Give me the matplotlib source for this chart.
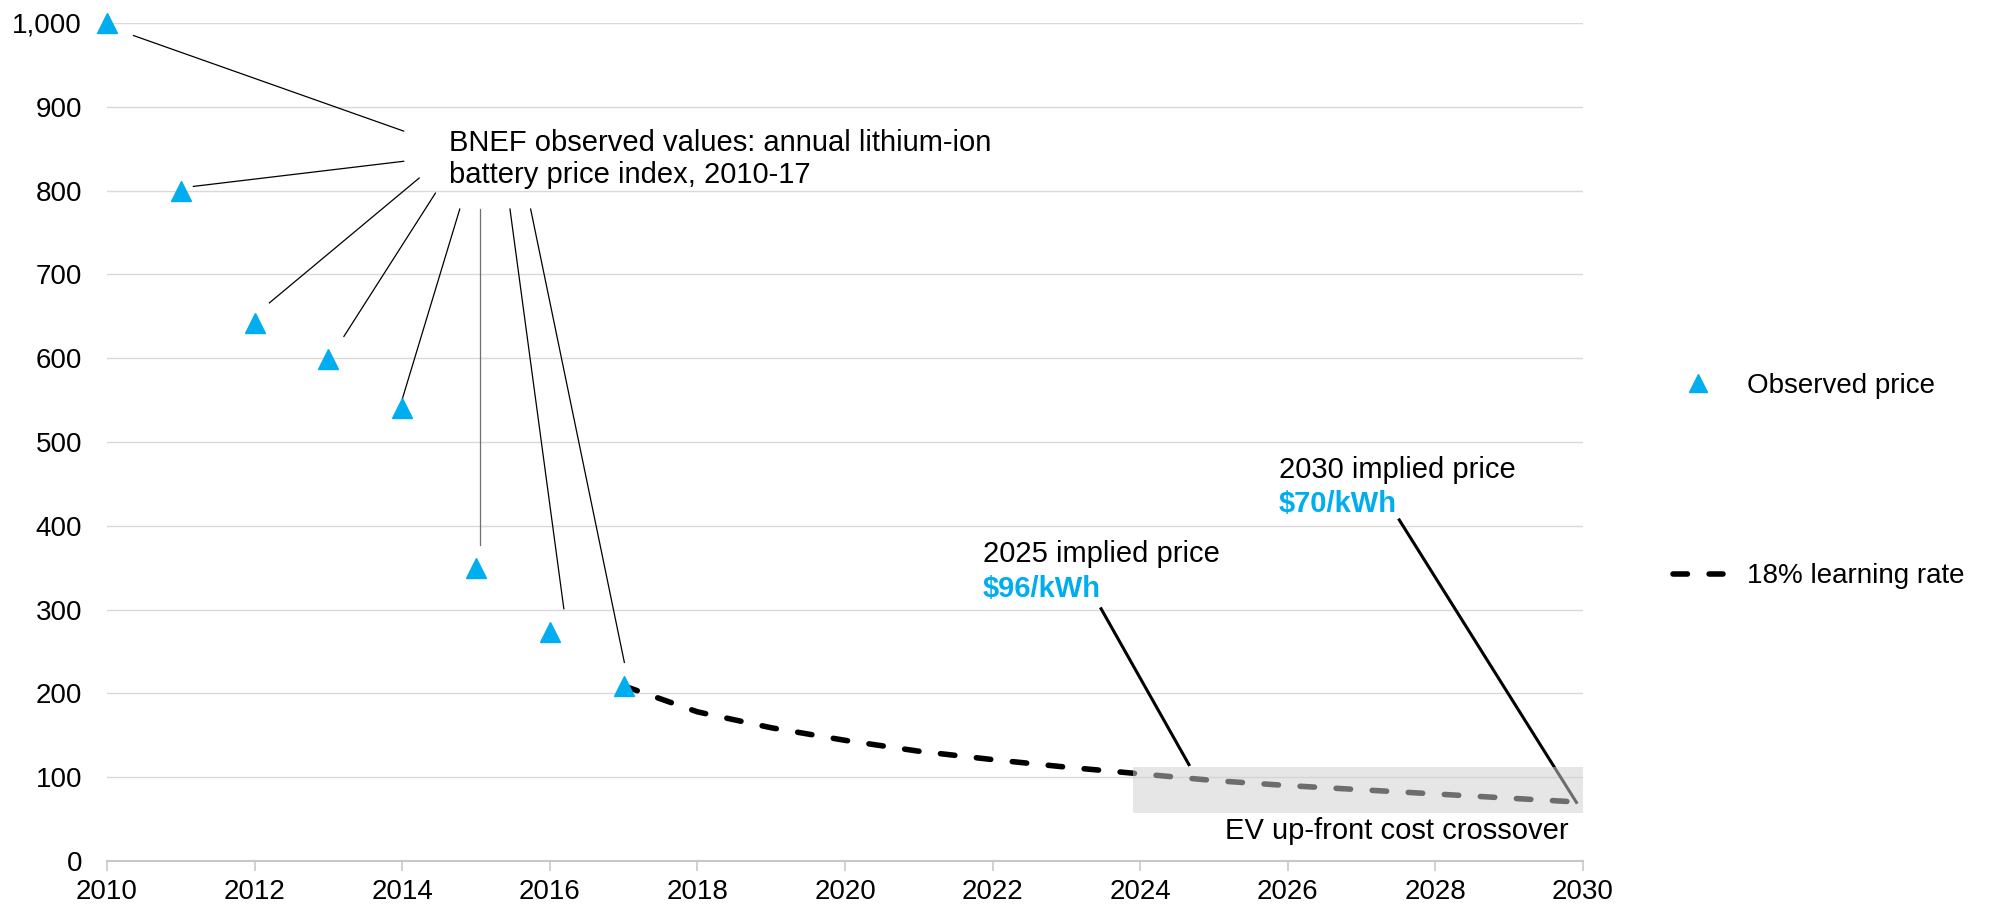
import matplotlib.pyplot as plt
from matplotlib.lines import Line2D
from matplotlib.patches import Rectangle
from matplotlib.ticker import FuncFormatter

plt.rcParams['font.family'] = ['Liberation Sans', 'DejaVu Sans']

# observed BNEF battery pack prices ($/kWh)
obs_years = [2010, 2011, 2012, 2013, 2014, 2015, 2016, 2017]
obs_price = [1000, 800, 642, 599, 540, 350, 273, 209]

# 18% learning rate projection
proj_years = [2017, 2018, 2019, 2020, 2021, 2022, 2023, 2024, 2025, 2026, 2027, 2028, 2029, 2030]
proj_price = [209, 178, 159, 144, 131, 121, 112, 104, 96, 90, 85, 80, 75, 70]

# crossover band
band_x = [2023.9, 2030]
band_y = [57, 112]

blue = '#00AEEF'
fs = 20      # ticks / legend
fs_ann = 21  # annotations
dash = (2.6, 3.9)

fig = plt.figure(figsize=(19.89, 9.09), dpi=100)
ax = fig.add_axes([0.0538, 0.0528, 0.7421, 0.9219])

ax.plot(proj_years, proj_price, color='black', lw=4, dashes=dash,
        dash_capstyle='round', zorder=3, label='18% learning rate')
ax.plot(obs_years, obs_price, ls='none', marker='^', ms=15, color=blue,
        zorder=4, clip_on=False, label='Observed price')

# shaded crossover band (drawn over the line so it greys it out)
ax.add_patch(Rectangle((band_x[0], band_y[0]), band_x[1] - band_x[0], band_y[1] - band_y[0],
                       facecolor='#d0d0d0', alpha=0.53, edgecolor='none', zorder=6))
ax.text(2029.8, 36, 'EV up-front cost crossover', ha='right', va='center', fontsize=fs_ann)

# BNEF label with leader lines
ax.text(2014.64, 838, 'BNEF observed values: annual lithium-ion\nbattery price index, 2010-17',
        ha='left', va='center', fontsize=fs_ann, linespacing=1.2)
leaders = [
    ((2014.02, 871), (2010.36, 985)),
    ((2014.02, 835), (2011.17, 805)),
    ((2014.23, 815), (2012.20, 666)),
    ((2014.45, 797), (2013.21, 626)),
    ((2014.78, 778), (2014.00, 551)),
    ((2015.05, 778), (2015.05, 377)),
    ((2015.46, 778), (2016.19, 301)),
    ((2015.74, 778), (2017.01, 237)),
]
for i, (a, b) in enumerate(leaders):
    c = '#6f6f6f' if i == 5 else 'black'
    ax.plot([a[0], b[0]], [a[1], b[1]], color=c, lw=0.9, zorder=2)

# implied price callouts
ax.text(2021.87, 366, '2025 implied price', fontsize=fs_ann, va='center')
ax.text(2021.87, 324, '$96/kWh', fontsize=fs_ann, va='center', color=blue, fontweight='bold')
ax.plot([2023.47, 2024.66], [301, 115], color='black', lw=2.2, zorder=5)

ax.text(2025.88, 467, '2030 implied price', fontsize=fs_ann, va='center')
ax.text(2025.88, 426, '$70/kWh', fontsize=fs_ann, va='center', color=blue, fontweight='bold')
ax.plot([2027.51, 2029.91], [407, 70], color='black', lw=2.2, zorder=5)

ax.set_xlim(2010, 2030)
ax.set_ylim(0, 1000)
ax.set_xticks(range(2010, 2031, 2))
ax.set_yticks(range(0, 1001, 100))
ax.yaxis.set_major_formatter(FuncFormatter(lambda v, p: f'{int(v):,}'))
ax.grid(axis='y', color='#d9d9d9', lw=1, zorder=0)
ax.set_axisbelow(True)
for s in ['top', 'right', 'left']:
    ax.spines[s].set_visible(False)
ax.spines['bottom'].set_color('#c8c8c8')
ax.spines['bottom'].set_linewidth(1.5)
ax.tick_params(axis='x', colors='#c8c8c8', length=7, width=1.2, labelcolor='black',
               labelsize=fs, pad=6)
ax.tick_params(axis='y', length=0, labelsize=fs, pad=18)

handles = [
    Line2D([], [], ls='none', marker='^', ms=13, color=blue),
    Line2D([], [], color='black', lw=4, dashes=dash, dash_capstyle='round'),
]
fig.legend(handles, ['Observed price', '18% learning rate'], loc='center left',
           bbox_to_anchor=(1673 / 1989, 1 - 481 / 909), frameon=False, fontsize=fs,
           labelspacing=5.92, handlelength=1.81, handletextpad=0.85,
           borderpad=0, borderaxespad=0)

fig.savefig('out.png', dpi=100)
